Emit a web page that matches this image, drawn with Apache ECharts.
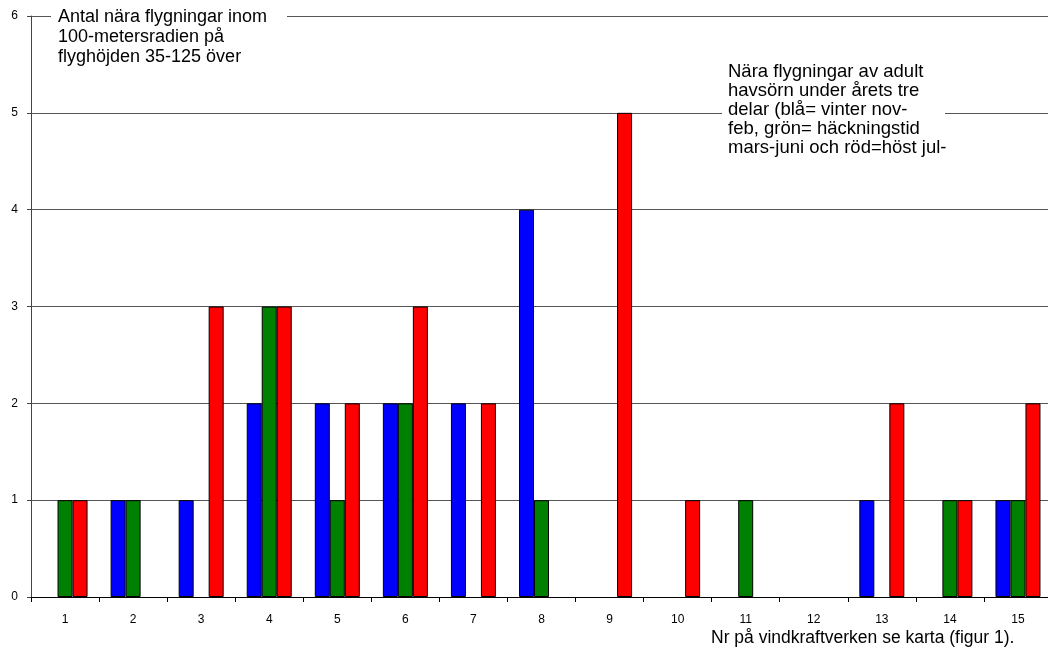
<!DOCTYPE html>
<html>
<head>
<meta charset="utf-8">
<script src="https://cdn.jsdelivr.net/npm/echarts@6/dist/echarts.min.js"></script>
<style>
  html, body { margin: 0; padding: 0; background: #fff; }
  #chart { width: 1048px; height: 649px; }
</style>
</head>
<body>
<div id="chart"></div>
<script>
// Wind turbine numbers along the x axis
const turbines = ['1', '2', '3', '4', '5', '6', '7', '8', '9', '10', '11', '12', '13', '14', '15'];

// Close flights per season (blue = winter, green = breeding, red = autumn)
const winter   = [0, 1, 1, 2, 2, 2, 2, 4, 0, 0, 0, 0, 1, 0, 1];
const breeding = [1, 1, 0, 3, 1, 2, 0, 1, 0, 0, 1, 0, 0, 1, 1];
const autumn   = [1, 0, 3, 3, 2, 3, 2, 0, 5, 1, 0, 0, 2, 1, 2];

const yTicks = [0, 1, 2, 3, 4, 5, 6];

const titleLines = [
  'Antal nära flygningar inom',
  '100-metersradien på',
  'flyghöjden 35-125 över'
];
const noteLines = [
  'Nära flygningar av adult',
  'havsörn under årets tre',
  'delar (blå= vinter nov-',
  'feb, grön= häckningstid',
  'mars-juni och röd=höst jul-'
];
const xName = 'Nr på vindkraftverken se karta (figur 1).';

const FONT = '"Liberation Sans", Arial, sans-serif';
const chart = echarts.init(document.getElementById('chart'), null, { renderer: 'canvas' });

// zero counts leave an empty slot instead of a flat outlined bar
const bars = (arr) => arr.map(v => (v === 0 ? null : v));

const barStyle = (color) => ({
  color: color,
  borderColor: '#000',
  borderWidth: 1
});

chart.setOption({
  animation: false,
  backgroundColor: '#fff',
  grid: { left: 31, top: 16, width: 1021, bottom: 52, containLabel: false, outerBoundsMode: 'none' },
  xAxis: {
    type: 'category',
    data: turbines,
    axisLine: { lineStyle: { color: '#000', width: 1 } },
    axisTick: { show: true, alignWithLabel: false, length: 5, lineStyle: { color: '#000' } },
    axisLabel: { color: '#000', fontFamily: FONT, fontSize: 12, margin: 17 },
    splitLine: { show: false }
  },
  yAxis: {
    type: 'value',
    min: 0,
    max: 6,
    interval: 1,
    axisLine: { show: true, lineStyle: { color: '#444', width: 1 } },
    axisTick: { show: true, length: 4, lineStyle: { color: '#444' } },
    axisLabel: {
      color: '#000', fontFamily: FONT, fontSize: 12, margin: 13,
      formatter: (v) => yTicks.includes(v) ? String(v) : ''
    },
    splitLine: { show: true, lineStyle: { color: '#555', width: 1 } }
  },
  series: [
    { name: 'vinter', type: 'bar', data: bars(winter), barWidth: 15, barGap: '0%', itemStyle: barStyle('#0000ff') },
    { name: 'häckningstid', type: 'bar', data: bars(breeding), barWidth: 15, barGap: '0%', itemStyle: barStyle('#008000') },
    { name: 'höst', type: 'bar', data: bars(autumn), barWidth: 15, barGap: '0%', itemStyle: barStyle('#ff0000') }
  ],
  graphic: [
    {
      type: 'rect', z: 100, silent: true,
      shape: { x: 51, y: 0, width: 236, height: 64 },
      style: { fill: '#ffffff', stroke: null }
    },
    {
      type: 'text', z: 101, x: 58, y: 7,
      style: { text: titleLines.join('\n'), font: '18px ' + FONT, fill: '#000', lineHeight: 20 }
    },
    {
      type: 'rect', z: 100, silent: true,
      shape: { x: 722, y: 56, width: 223, height: 112 },
      style: { fill: '#ffffff', stroke: null }
    },
    {
      type: 'text', z: 101, x: 728, y: 62,
      style: { text: noteLines.join('\n'), font: '18.5px ' + FONT, fill: '#000', lineHeight: 19 }
    },
    {
      type: 'text', z: 101, x: 711, y: 629,
      style: { text: xName, font: '17.5px ' + FONT, fill: '#000' }
    }
  ]
});
</script>
</body>
</html>
